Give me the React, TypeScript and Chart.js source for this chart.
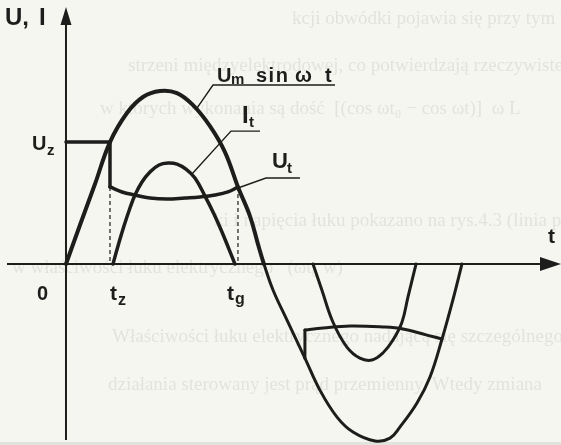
import React, { useEffect, useRef } from "react";
import { Chart, registerables } from "chart.js";

Chart.register(...registerables);

const W = 561;
const H = 445;
const INK = "#1d1d1b";
const PAPER = "#f6f6f1";

// Time in ms of a 50 Hz supply, values in % of the supply amplitude U_m
const T_MIN = -3.35;
const T_MAX = 25.13;
const V_MIN = -105.2;
const V_MAX = 153.5;

// Supply voltage U_m sin ωt
const supplyTime = [0, 0.711, 1.472, 2.234, 3.096, 3.909, 4.772, 5.635, 6.447, 7.31, 8.071, 8.731, 9.34, 9.746, 10.05, 10.51, 11.22, 12.13, 12.89, 13.76, 14.57, 15.69, 16.45, 16.95, 17.82, 18.48, 19.09, 19.64, 20.1];
const supplyVolt = [0, 22.7, 46.5, 70.9, 87.8, 97.1, 100.6, 99.4, 92.4, 80.2, 65.1, 44.8, 27.9, 11.6, 0, -15.1, -32.6, -54.7, -73.3, -89.0, -97.7, -102.9, -101.2, -94.8, -80.8, -65.7, -43.6, -20.9, 0];

// Arc current I_t, positive and negative half-wave
const currentTime1 = [2.386, 2.64, 2.944, 3.249, 3.503, 3.858, 4.264, 4.721, 5.178, 5.635, 6.091, 6.548, 7.056, 7.513, 7.919, 8.274, 8.579];
const currentAmp1 = [0, 10.5, 22.1, 32.6, 40.1, 47.7, 53.5, 57.6, 58.7, 58.1, 55.2, 50.0, 39.5, 29.1, 18.6, 8.7, 0];
const currentTime2 = [12.54, 12.99, 13.55, 14.26, 14.92, 15.53, 16.09, 16.6, 17.06, 17.36, 17.77];
const currentAmp2 = [0, -15.1, -33.7, -48.3, -54.7, -55.8, -51.7, -44.2, -33.7, -19.2, 0];

// Arc voltage U_t while the arc burns
const arcTime1 = [2.234, 2.843, 3.503, 4.264, 5.127, 6.041, 6.802, 7.563, 8.223, 8.731];
const arcVolt1 = [44.8, 41.9, 40.1, 38.4, 37.8, 38.4, 39.0, 40.1, 41.9, 44.8];
const arcTime2 = [12.13, 13.05, 14.42, 16.09, 17.11, 18.32, 19.09];
const arcVolt2 = [-38.4, -37.2, -36.0, -36.6, -37.8, -41.3, -43.6];

// Ignition voltage U_z, ignition time t_z, extinction time t_g
const ignitionVolt = 70.9;
const tIgnite = 2.234;
const tExtinct = 8.731;
const tReignite = 12.13;
const reigniteVolt = [-54.7, -38.4];

// Tags on the curves: anchor point on the curve (time, value)
const supplyTag = { t: 6.65, v: 90.7 };
const currentTag = { t: 6.396, v: 52.3 };
const arcTag = { t: 8.02, v: 41.3 };

// Faint show-through of the printed text on the reverse of the sheet
const ghostLines = [
  { s: "kcji obwódki pojawia się przy tym także rozszerzenie", x: 292, y: 24 },
  { s: "strzeni międzyelektrodowej, co potwierdzają rzeczywiste", x: 128, y: 71 },
  { s: "w których wykonania są dość  [(cos ωt₀ − cos ωt)]  ω L", x: 100, y: 114 },
  { s: "ki i napięcia łuku pokazano na rys.4.3 (linia przerywana)", x: 214, y: 226 },
  { s: "w właściwości łuku elektrycznego   (ωt₀ w)", x: 12, y: 273 },
  { s: "Właściwości łuku elektrycznego nadającą się szczególnego n", x: 112, y: 342 },
  { s: "działania sterowany jest prąd przemienny. Wtedy zmiana", x: 108, y: 390 },
];

const pts = (ts: number[], vs: number[]) => ts.map((t, i) => ({ x: t, y: vs[i] }));

const FONT = "'Liberation Sans', Arial, sans-serif";

const paperPlugin = {
  id: "paper",
  beforeDraw(chart: any) {
    const { ctx, width, height } = chart;
    ctx.save();
    ctx.fillStyle = PAPER;
    ctx.fillRect(0, 0, width, height);
    ctx.filter = "blur(0.7px)";
    ctx.fillStyle = "rgba(70,70,60,0.11)";
    ctx.font = "19px 'Liberation Serif', serif";
    ctx.textBaseline = "alphabetic";
    ghostLines.forEach((g) => ctx.fillText(g.s, g.x, g.y));
    ctx.filter = "none";
    ctx.fillStyle = "#e3e3de";
    ctx.fillRect(0, height - 3, width, 3);
    ctx.restore();
  },
};

const axesPlugin = {
  id: "axes",
  beforeDatasetsDraw(chart: any) {
    const { ctx, chartArea, scales } = chart;
    const x0 = scales.x.getPixelForValue(0);
    const y0 = scales.y.getPixelForValue(0);
    ctx.save();
    ctx.strokeStyle = INK;
    ctx.fillStyle = INK;
    ctx.lineWidth = 2;
    // vertical axis
    ctx.beginPath();
    ctx.moveTo(x0, chartArea.bottom - 5);
    ctx.lineTo(x0, chartArea.top + 20);
    ctx.stroke();
    ctx.beginPath();
    ctx.moveTo(x0, chartArea.top + 7);
    ctx.lineTo(x0 - 5.5, chartArea.top + 25);
    ctx.lineTo(x0 + 5.5, chartArea.top + 25);
    ctx.closePath();
    ctx.fill();
    // time axis
    ctx.beginPath();
    ctx.moveTo(chartArea.left + 7, y0);
    ctx.lineTo(chartArea.right - 12, y0);
    ctx.stroke();
    ctx.beginPath();
    ctx.moveTo(chartArea.right, y0);
    ctx.lineTo(chartArea.right - 21, y0 - 7);
    ctx.lineTo(chartArea.right - 21, y0 + 7);
    ctx.closePath();
    ctx.fill();
    ctx.restore();
  },
};

const labelPlugin = {
  id: "labels",
  afterDatasetsDraw(chart: any) {
    const { ctx, chartArea, scales } = chart;
    const sx = scales.x;
    const sy = scales.y;
    const x0 = sx.getPixelForValue(0);
    const y0 = sy.getPixelForValue(0);
    ctx.save();
    ctx.fillStyle = INK;
    ctx.strokeStyle = INK;
    ctx.textBaseline = "alphabetic";
    ctx.textAlign = "left";
    const text = (s: string, px: number, py: number, size: number, spacing = 0) => {
      ctx.font = `bold ${size}px ${FONT}`;
      (ctx as any).letterSpacing = `${spacing}px`;
      ctx.fillText(s, px, py);
      (ctx as any).letterSpacing = "0px";
    };

    text("U,", x0 - 61, chartArea.top + 25, 24);
    text("I", x0 - 27, chartArea.top + 25, 24);

    const yz = sy.getPixelForValue(ignitionVolt);
    text("U", x0 - 34, yz + 8, 20);
    text("z", x0 - 19, yz + 13, 15);

    text("0", x0 - 29, y0 + 36, 20);

    const xz = sx.getPixelForValue(tIgnite);
    text("t", xz, y0 + 36, 21);
    text("z", xz + 8, y0 + 41, 16);
    const xg = sx.getPixelForValue(tExtinct);
    text("t", xg - 11, y0 + 36, 21);
    text("g", xg - 3, y0 + 40, 16);

    text("t", chartArea.right - 13, y0 - 21, 21);

    const leader = (ax: number, ay: number, kx: number, ky: number, len: number) => {
      ctx.lineWidth = 1.4;
      ctx.beginPath();
      ctx.moveTo(ax, ay);
      ctx.lineTo(kx, ky);
      ctx.lineTo(kx + len, ky);
      ctx.stroke();
    };

    // U_m sin ωt
    let ax = sx.getPixelForValue(supplyTag.t);
    let ay = sy.getPixelForValue(supplyTag.v);
    let kx = ax + 16;
    let ky = ay - 23;
    leader(ax, ay, kx, ky, 122);
    text("U", kx + 4, ky - 3, 20);
    text("m", kx + 18, ky - 1, 15);
    text("sin", kx + 43, ky - 3, 20, 1.5);
    text("ω", kx + 82, ky - 3, 20);
    text("t", kx + 112, ky - 3, 20);

    // I_t
    ax = sx.getPixelForValue(currentTag.t);
    ay = sy.getPixelForValue(currentTag.v);
    kx = ax + 39;
    ky = ay - 43;
    leader(ax, ay, kx, ky, 29);
    text("I", kx + 11, ky - 8, 24);
    text("t", kx + 18, ky - 4, 15);

    // U_t
    ax = sx.getPixelForValue(arcTag.t);
    ay = sy.getPixelForValue(arcTag.v);
    kx = ax + 42;
    ky = ay - 15;
    leader(ax, ay, kx, ky, 34);
    text("U", kx + 6, ky - 10, 22);
    text("t", kx + 21, ky - 5, 15);

    ctx.restore();
  },
};

export default function App() {
  const ref = useRef<HTMLCanvasElement | null>(null);

  useEffect(() => {
    document.body.style.margin = "0";
    document.body.style.background = PAPER;
    if (!ref.current) return;

    const thick = (data: any[], width: number, tension = 0.4) => ({
      data,
      borderColor: INK,
      borderWidth: width,
      tension,
      pointRadius: 0,
      fill: false,
      borderCapStyle: "round" as const,
      borderJoinStyle: "round" as const,
    });

    const chart = new Chart(ref.current, {
      type: "line",
      data: {
        datasets: [
          {
            ...thick(pts(supplyTime, supplyVolt), 4),
            segment: {
              borderWidth: (c: any) => (c.p0.parsed.y < 0 || c.p1.parsed.y < 0 ? 3 : 4),
            },
          },
          thick(pts(currentTime1, currentAmp1), 3.5),
          thick(pts(currentTime2, currentAmp2), 3),
          thick(pts(arcTime1, arcVolt1), 3.5),
          thick(pts(arcTime2, arcVolt2), 3),
          thick(
            [
              { x: 0, y: ignitionVolt },
              { x: tIgnite, y: ignitionVolt },
              { x: tIgnite, y: arcVolt1[0] },
            ],
            3.5,
            0
          ),
          thick(
            [
              { x: tReignite, y: reigniteVolt[0] },
              { x: tReignite, y: reigniteVolt[1] },
            ],
            3,
            0
          ),
          {
            data: [
              { x: tIgnite, y: arcVolt1[0] },
              { x: tIgnite, y: 0 },
            ],
            borderColor: INK,
            borderWidth: 1.2,
            borderDash: [4, 3],
            pointRadius: 0,
            tension: 0,
          },
          {
            data: [
              { x: tExtinct, y: arcVolt1[arcVolt1.length - 1] },
              { x: tExtinct, y: 0 },
            ],
            borderColor: INK,
            borderWidth: 1.2,
            borderDash: [4, 3],
            pointRadius: 0,
            tension: 0,
          },
        ],
      },
      options: {
        responsive: false,
        animation: false,
        events: [],
        layout: { padding: 0 },
        plugins: {
          legend: { display: false },
          tooltip: { enabled: false },
        },
        scales: {
          x: { type: "linear", min: T_MIN, max: T_MAX, display: false },
          y: { type: "linear", min: V_MIN, max: V_MAX, display: false },
        },
      },
      plugins: [paperPlugin, axesPlugin, labelPlugin],
    } as any);

    return () => chart.destroy();
  }, []);

  return (
    <div style={{ width: W, height: H }}>
      <canvas ref={ref} width={W} height={H} style={{ display: "block" }} />
    </div>
  );
}
